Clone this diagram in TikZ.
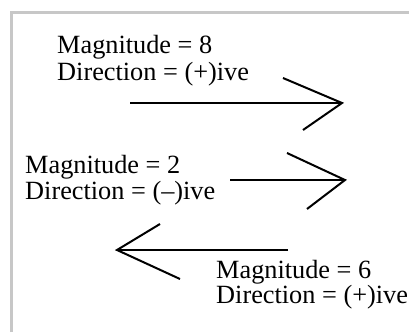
\documentclass[tikz,border=0pt]{standalone}
\usepackage{fontspec}
\setmainfont{Liberation Serif}
\begin{document}
\begin{tikzpicture}[x=1pt,y=-1pt,
  lbl/.style={anchor=base west,inner sep=0pt,font=\fontsize{26.3}{26}\selectfont},
  vec/.style={line width=2pt,black,line cap=butt,line join=miter},
  frame/.style={line width=3pt,draw=black!22}]
\useasboundingbox (0,0) rectangle (409,332);
\fill[white] (0,0) rectangle (409,332);
\draw[frame] (11.5,332) -- (11.5,12) -- (409,12);
% labels
\node[lbl] (m8) at (57,53) {Magnitude = 8};
\node[lbl] (d8) at (57,80) {Direction = (+)ive};
\node[lbl] (m2) at (25,173) {Magnitude = 2};
\node[lbl] (d2) at (25,199) {Direction = (–)ive};
\node[lbl] (m6) at (216,278) {Magnitude = 6};
\node[lbl] (d6) at (216,303) {Direction = (+)ive};
% arrow 1
\coordinate (a1s) at (130,103);
\coordinate (a1t) at (342,103);
\draw[vec] (a1s) -- (a1t);
\draw[vec] (283,78) -- (a1t) -- (303,130);
% arrow 2
\coordinate (a2s) at (230,180);
\coordinate (a2t) at (345,180);
\draw[vec] (a2s) -- (a2t);
\draw[vec] (287,153) -- (a2t) -- (307,209);
% arrow 3
\coordinate (a3s) at (288,250);
\coordinate (a3t) at (117,250);
\draw[vec] (a3s) -- (a3t);
\draw[vec] (160,224) -- (a3t) -- (180,279);
\end{tikzpicture}
\end{document}
